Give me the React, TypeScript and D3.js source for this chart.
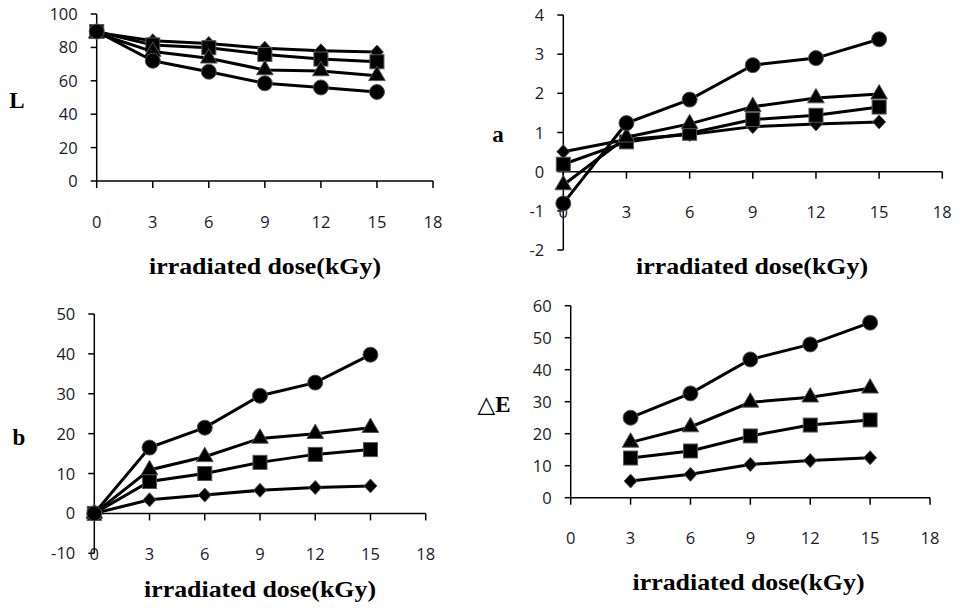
import React from "react";
import * as d3 from "d3";

const doses = [0, 3, 6, 9, 12, 15];
const dosesE = [3, 6, 9, 12, 15];
const xTicks = [0, 3, 6, 9, 12, 15, 18];

const L_diamond = [89, 84, 82.4, 79.5, 78, 77.2];
const L_square = [89.5, 81.5, 79.8, 75.8, 73, 71.4];
const L_triangle = [88.5, 77.5, 73.5, 66.5, 65.9, 63];
const L_circle = [89.5, 72, 65.4, 58.5, 56, 53.3];

const a_diamond = [0.51, 0.82, 0.95, 1.15, 1.22, 1.27];
const a_square = [0.19, 0.76, 0.98, 1.33, 1.44, 1.65];
const a_triangle = [-0.34, 0.88, 1.22, 1.66, 1.88, 1.98];
const a_circle = [-0.81, 1.24, 1.84, 2.72, 2.9, 3.38];

const b_diamond = [0, 3.4, 4.6, 5.8, 6.5, 6.9];
const b_square = [0, 8.0, 10.0, 12.8, 14.8, 16.0];
const b_triangle = [0, 10.9, 14.2, 18.8, 20.0, 21.5];
const b_circle = [0, 16.5, 21.5, 29.5, 32.8, 39.8];

const E_diamond = [5.2, 7.3, 10.4, 11.6, 12.5];
const E_square = [12.4, 14.6, 19.3, 22.7, 24.3];
const E_triangle = [17.3, 22.1, 29.8, 31.4, 34.2];
const E_circle = [25, 32.6, 43.2, 47.9, 54.7];

const L_ticks = [0, 20, 40, 60, 80, 100];
const a_ticks = [-2, -1, 0, 1, 2, 3, 4];
const b_ticks = [-10, 0, 10, 20, 30, 40, 50];
const E_ticks = [0, 10, 20, 30, 40, 50, 60];

const markerTypes = ["diamond", "square", "triangle", "circle"];

const TITLE = "irradiated dose(kGy)";

type Panel = {
  label: string;
  xRange: [number, number];
  yDomain: [number, number];
  yRange: [number, number];
  yTicks: number[];
  xs: number[];
  series: number[][];
  labelPos: [number, number];
  titlePos: [number, number];
};

const panels: Panel[] = [
  {
    label: "L",
    xRange: [96.7, 433],
    yDomain: [0, 100],
    yRange: [181, 14],
    yTicks: L_ticks,
    xs: doses,
    series: [L_diamond, L_square, L_triangle, L_circle],
    labelPos: [17, 108],
    titlePos: [265, 274],
  },
  {
    label: "a",
    xRange: [563.3, 942.3],
    yDomain: [-2, 4],
    yRange: [250, 15],
    yTicks: a_ticks,
    xs: doses,
    series: [a_diamond, a_square, a_triangle, a_circle],
    labelPos: [498, 141.7],
    titlePos: [752, 274],
  },
  {
    label: "b",
    xRange: [94.3, 425.7],
    yDomain: [-10, 50],
    yRange: [553.3, 314],
    yTicks: b_ticks,
    xs: doses,
    series: [b_diamond, b_square, b_triangle, b_circle],
    labelPos: [19, 445],
    titlePos: [260, 596.5],
  },
  {
    label: "△E",
    xRange: [570.7, 930],
    yDomain: [0, 60],
    yRange: [497.7, 305.7],
    yTicks: E_ticks,
    xs: dosesE,
    series: [E_diamond, E_square, E_triangle, E_circle],
    labelPos: [494, 412],
    titlePos: [748.5, 589.5],
  },
];

const tickFont = "'Open Sans', 'Liberation Sans', sans-serif";
const serifFont = "'Liberation Serif', 'DejaVu Serif', serif";

function Marker({ type, x, y }: { type: string; x: number; y: number }) {
  const stroke = "#555";
  const sw = 1;
  if (type === "circle") {
    return <circle cx={x} cy={y} r={7.5} fill="#000" stroke={stroke} strokeWidth={sw} />;
  }
  if (type === "square") {
    return <rect x={x - 7} y={y - 7} width={14} height={14} fill="#000" stroke={stroke} strokeWidth={sw} />;
  }
  if (type === "triangle") {
    const p = d3.symbol(d3.symbolTriangle, 120)();
    return <path d={p || ""} transform={`translate(${x},${y})`} fill="#000" stroke={stroke} strokeWidth={sw} />;
  }
  const h = 7;
  const w = 6.5;
  return (
    <path
      d={`M${x},${y - h}L${x + w},${y}L${x},${y + h}L${x - w},${y}Z`}
      fill="#000"
      stroke={stroke}
      strokeWidth={sw}
    />
  );
}

function PanelView({ p }: { p: Panel }) {
  const x = d3.scaleLinear().domain([0, 18]).range(p.xRange);
  const y = d3.scaleLinear().domain(p.yDomain).range(p.yRange);
  const axisY = y(0);
  const x0 = x(0);
  const line = d3
    .line<number>()
    .x((_, i) => x(p.xs[i]))
    .y((d) => y(d));
  const yTop = y(p.yDomain[1]);
  const yBot = y(p.yDomain[0]);
  const labelRowY = axisY + 46.5;
  return (
    <g>
      {/* y axis */}
      <line x1={x0} x2={x0} y1={yTop} y2={yBot} stroke="#000" strokeWidth={1.5} />
      {p.yTicks.map((t) => (
        <g key={"y" + t}>
          <line x1={x0 - 6} x2={x0} y1={y(t)} y2={y(t)} stroke="#000" strokeWidth={1.5} />
          <text
            x={x0 - 19}
            y={y(t) + 6}
            textAnchor="end"
            fontFamily={tickFont}
            fontSize={16.5}
            fill="#1a1a2a"
          >
            {t}
          </text>
        </g>
      ))}
      {/* x axis */}
      <line x1={x(0)} x2={x(18)} y1={axisY} y2={axisY} stroke="#000" strokeWidth={1.5} />
      {xTicks.map((t) => (
        <g key={"x" + t}>
          <line x1={x(t)} x2={x(t)} y1={axisY} y2={axisY + 7} stroke="#000" strokeWidth={1.5} />
          <text
            x={x(t)}
            y={labelRowY}
            textAnchor="middle"
            fontFamily={tickFont}
            fontSize={16.5}
            fill="#1a1a2a"
          >
            {t}
          </text>
        </g>
      ))}
      {/* series */}
      {p.series.map((s, si) => (
        <g key={"s" + si}>
          <path d={line(s) || ""} fill="none" stroke="#000" strokeWidth={3} />
          {s.map((v, i) => (
            <Marker key={i} type={markerTypes[si]} x={x(p.xs[i])} y={y(v)} />
          ))}
        </g>
      ))}
      {/* labels */}
      <text
        x={p.labelPos[0]}
        y={p.labelPos[1]}
        textAnchor="middle"
        fontFamily={serifFont}
        fontWeight="bold"
        fontSize={23}
        fill="#000"
      >
        {p.label}
      </text>
      <text
        x={p.titlePos[0]}
        y={p.titlePos[1]}
        textAnchor="middle"
        fontFamily={serifFont}
        fontWeight="bold"
        fontSize={23}
        textLength={232}
        lengthAdjust="spacingAndGlyphs"
        fill="#000"
      >
        {TITLE}
      </text>
    </g>
  );
}

export default function App() {
  return (
    <svg
      width={962}
      height={608}
      style={{ position: "absolute", left: 0, top: 0, background: "#fff" }}
    >
      <rect width={962} height={608} fill="#fff" />
      {panels.map((p, i) => (
        <PanelView key={i} p={p} />
      ))}
    </svg>
  );
}
